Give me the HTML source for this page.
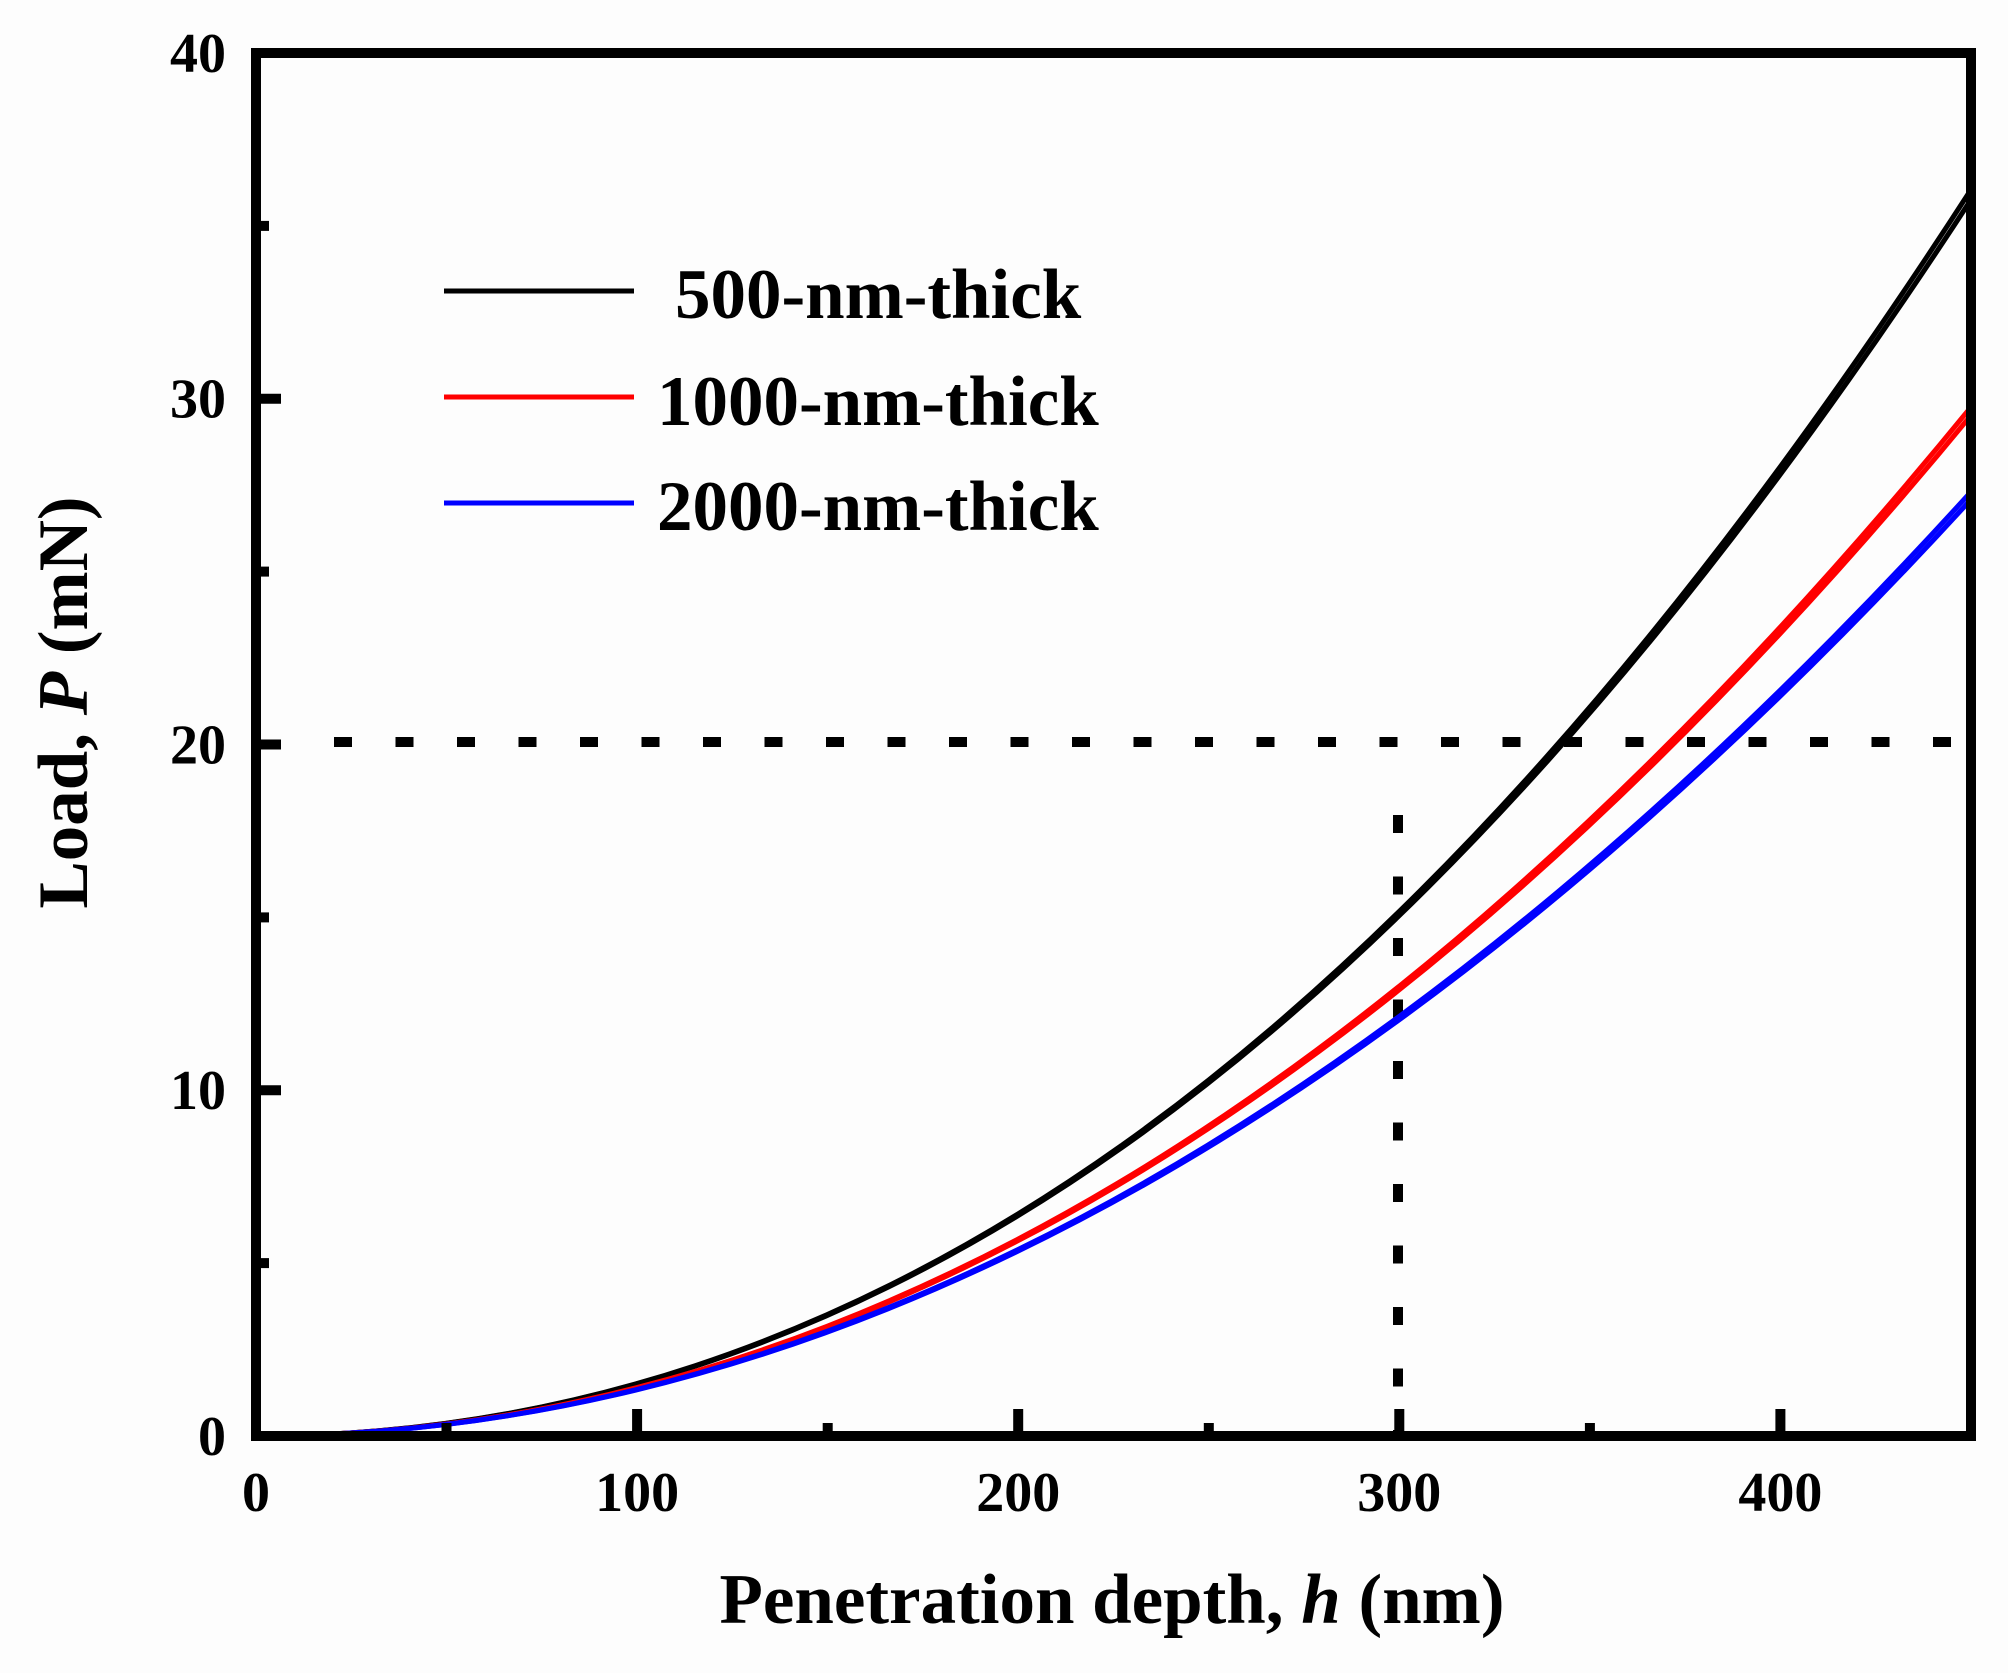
<!DOCTYPE html>
<html>
<head>
<meta charset="utf-8">
<style>
html,body{margin:0;padding:0;background:#fdfdfd;}
svg{display:block;}
text{font-family:"Liberation Serif","Times New Roman",serif;font-weight:bold;fill:#000;}
</style>
</head>
<body>
<svg width="2008" height="1673" viewBox="0 0 2008 1673" xmlns="http://www.w3.org/2000/svg">
<rect x="0" y="0" width="2008" height="1673" fill="#fdfdfd"/>

<!-- dotted reference lines -->
<line x1="334" y1="742" x2="1966" y2="742" stroke="#000" stroke-width="10" stroke-dasharray="18 43.5"/>
<line x1="1398" y1="815" x2="1398" y2="1432" stroke="#000" stroke-width="10" stroke-dasharray="18 43.5"/>

<!-- curves -->
<g fill="none" stroke-width="5" stroke-linejoin="round">
  <!-- black -->
  <path d="M256,1436 C852.3,1436 1399.3,1074.5 1971,189.6" stroke="#000"/>
  <path d="M256,1436 C852.3,1436 1399.3,1077.4 1971,199.6" stroke="#000"/>
  <!-- red -->
  <path d="M256,1436 C835.8,1436 1399.3,1106.8 1971,407.1" stroke="#ff0000"/>
  <path d="M256,1436 C835.8,1436 1399.3,1109.4 1971,415.3" stroke="#ff0000"/>
  <!-- blue -->
  <path d="M256,1436 C827.7,1436 1399.3,1121.3 1971,491.8" stroke="#0000ff"/>
  <path d="M256,1436 C827.7,1436 1399.3,1123.8 1971,499.4" stroke="#0000ff"/>
</g>

<!-- frame -->
<rect x="256" y="53" width="1715" height="1383" fill="none" stroke="#000" stroke-width="10"/>

<!-- y ticks -->
<g fill="#000">
  <rect x="261" y="1085.25" width="20" height="10"/>
  <rect x="261" y="739.5" width="20" height="10"/>
  <rect x="261" y="393.75" width="20" height="10"/>
  <rect x="261" y="1258.1" width="8" height="10"/>
  <rect x="261" y="912.4" width="8" height="10"/>
  <rect x="261" y="566.6" width="8" height="10"/>
  <rect x="261" y="220.9" width="8" height="10"/>
  <!-- x ticks major -->
  <rect x="632.1" y="1409" width="10" height="23"/>
  <rect x="1013.2" y="1409" width="10" height="23"/>
  <rect x="1394.3" y="1409" width="10" height="23"/>
  <rect x="1775.4" y="1409" width="10" height="23"/>
  <!-- x ticks minor -->
  <rect x="441.5" y="1423" width="10" height="9"/>
  <rect x="822.7" y="1423" width="10" height="9"/>
  <rect x="1203.8" y="1423" width="10" height="9"/>
  <rect x="1584.9" y="1423" width="10" height="9"/>
</g>

<!-- y tick labels -->
<g font-size="56" text-anchor="end">
  <text x="226" y="1455">0</text>
  <text x="226" y="1109">10</text>
  <text x="226" y="763.5">20</text>
  <text x="226" y="417.5">30</text>
  <text x="226" y="72">40</text>
</g>

<!-- x tick labels -->
<g font-size="56" text-anchor="middle">
  <text x="256" y="1511">0</text>
  <text x="637.1" y="1511">100</text>
  <text x="1018.2" y="1511">200</text>
  <text x="1399.3" y="1511">300</text>
  <text x="1780.4" y="1511">400</text>
</g>

<!-- legend -->
<line x1="444" y1="291" x2="634" y2="291" stroke="#000" stroke-width="5"/>
<line x1="444" y1="397" x2="634" y2="397" stroke="#ff0000" stroke-width="5"/>
<line x1="444" y1="503" x2="634" y2="503" stroke="#0000ff" stroke-width="5"/>
<g font-size="71">
  <text x="675" y="318">500-nm-thick</text>
  <text x="657" y="425">1000-nm-thick</text>
  <text x="657" y="530">2000-nm-thick</text>
</g>

<!-- axis titles -->
<text x="1112" y="1623" font-size="71" text-anchor="middle">Penetration depth, <tspan font-style="italic">h</tspan> (nm)</text>
<text transform="translate(87,702.5) rotate(-90)" font-size="71" text-anchor="middle">Load, <tspan font-style="italic">P</tspan> (mN)</text>
</svg>
</body>
</html>
